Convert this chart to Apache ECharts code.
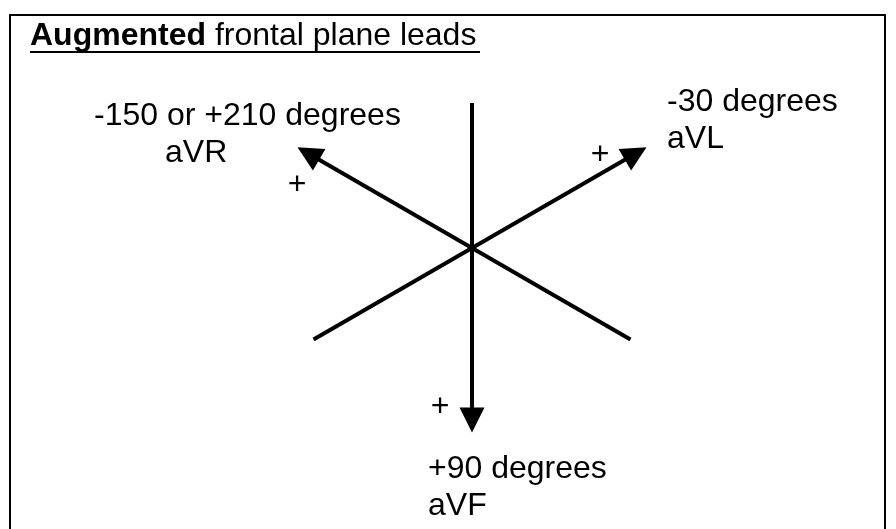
<!DOCTYPE html>
<html>
<head>
<meta charset="utf-8">
<script src="https://cdn.jsdelivr.net/npm/echarts@6/dist/echarts.min.js"></script>
<style>
  html, body { margin: 0; padding: 0; background: #fff; }
  #chart { width: 896px; height: 529px; }
</style>
</head>
<body>
<div id="chart"></div>
<script>
// augmented leads: angle in degrees (ECG convention, +90 points down)
const leadNames = ['aVR', 'aVL', 'aVF']
const leadAngles = [-150, -30, 90]
const leadAngleLabels = ['-150 or +210 degrees', '-30 degrees', '+90 degrees']
// arm length to the arrowhead centre (+ end) and to the plain end (px units)
const posLengths = [189, 189, 172]
const negLengths = [183, 183, 145]

const FONT = '"Liberation Sans", Arial, sans-serif'

function endPoint (angle, len) {
  const r = angle * Math.PI / 180
  return [len * Math.cos(r), len * Math.sin(r)]
}

const lineData = leadNames.map((name, i) => ({
  name: name,
  coords: [endPoint(leadAngles[i] + 180, negLengths[i]), endPoint(leadAngles[i], posLengths[i])]
}))

function txt (text, x, y, align) {
  return {
    type: 'text',
    x: x,
    y: y,
    style: {
      text: text,
      fill: '#000',
      font: '32px ' + FONT,
      align: align || 'left',
      verticalAlign: 'middle'
    }
  }
}

const chart = echarts.init(document.getElementById('chart'))
chart.setOption({
  animation: false,
  backgroundColor: '#fff',
  title: {
    text: '{b|Augmented} frontal plane leads',
    left: 30,
    top: 20,
    padding: 0,
    textStyle: {
      fontFamily: FONT,
      fontSize: 32,
      fontWeight: 'normal',
      color: '#000',
      lineHeight: 32,
      rich: {
        b: { fontFamily: FONT, fontSize: 32, fontWeight: 'bold', color: '#000', lineHeight: 32 }
      }
    }
  },
  grid: { left: 0, right: 0, top: 0, bottom: 0 },
  xAxis: { type: 'value', min: -472, max: 424, show: false },
  yAxis: { type: 'value', min: -248, max: 281, inverse: true, show: false },
  series: [{
    type: 'lines',
    coordinateSystem: 'cartesian2d',
    silent: true,
    symbol: ['none', 'triangle'],
    symbolSize: [0, 25],
    lineStyle: { color: '#000', width: 4, opacity: 1, curveness: 0 },
    itemStyle: { color: '#000' },
    data: lineData
  }],
  graphic: [
    {
      type: 'rect',
      shape: { x: 10, y: 15, width: 875, height: 600 },
      style: { fill: 'none', stroke: '#000', lineWidth: 2 }
    },
    {
      type: 'line',
      shape: { x1: 30, y1: 52, x2: 480, y2: 52 },
      style: { stroke: '#000', lineWidth: 2 }
    },
    txt(leadAngleLabels[0], 94, 116),
    txt(leadNames[0], 165, 153),
    txt(leadAngleLabels[1], 667, 102),
    txt(leadNames[1], 667, 139),
    txt(leadAngleLabels[2], 428, 469),
    txt(leadNames[2], 428, 506),
    txt('+', 297, 185, 'center'),
    txt('+', 600, 155, 'center'),
    txt('+', 440, 407, 'center')
  ]
})
</script>
</body>
</html>
